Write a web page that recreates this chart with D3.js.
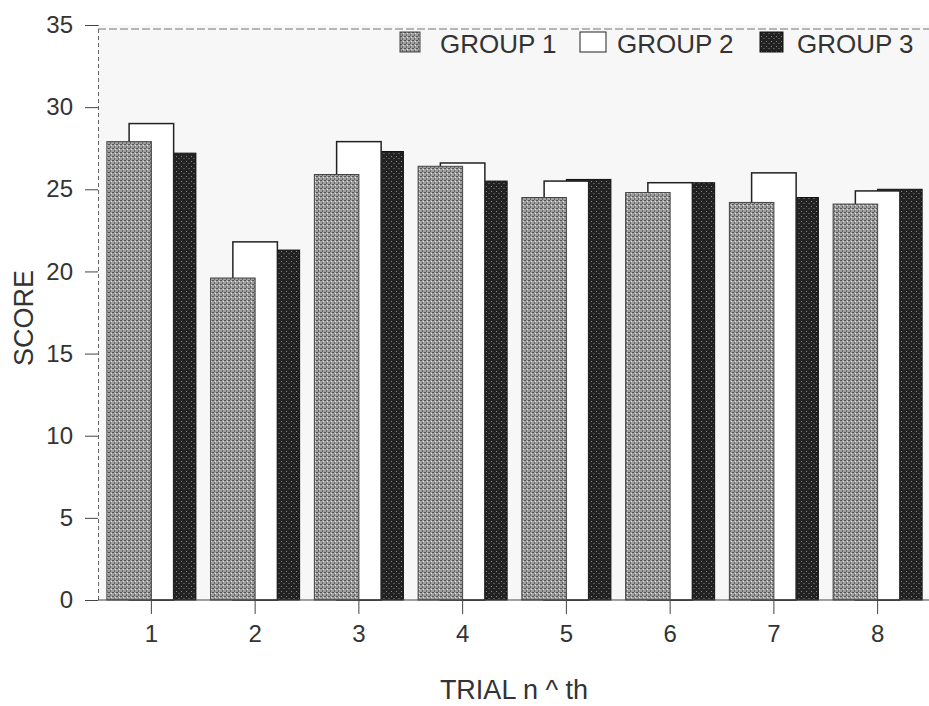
<!DOCTYPE html>
<html>
<head>
<meta charset="utf-8">
<script src="https://cdn.jsdelivr.net/npm/d3@7"></script>
<style>
  html, body { margin: 0; padding: 0; background: #fff; }
  svg { display: block; }
</style>
</head>
<body>
<svg id="chart" width="929" height="706"></svg>
<script>
// ---- data ----
const trials = ["1", "2", "3", "4", "5", "6", "7", "8"];
const groups = ["GROUP 1", "GROUP 2", "GROUP 3"];
const group1 = [27.9, 19.6, 25.9, 26.4, 24.5, 24.8, 24.2, 24.1];
const group2 = [29.0, 21.8, 27.9, 26.6, 25.5, 25.4, 26.0, 24.9];
const group3 = [27.2, 21.3, 27.3, 25.5, 25.6, 25.4, 24.5, 25.0];
const yTicks = [0, 5, 10, 15, 20, 25, 30, 35];
const seriesValues = [group1, group2, group3];

const svg = d3.select("#chart");
const font = "'Liberation Sans', Arial, Helvetica, sans-serif";

// ---- patterns (textures) ----
const defs = svg.append("defs");
const p1 = defs.append("pattern").attr("id", "pat1").attr("patternUnits", "userSpaceOnUse")
  .attr("width", 4).attr("height", 4);
p1.append("rect").attr("width", 4).attr("height", 4).attr("fill", "#a0a0a0");
p1.append("rect").attr("x", 0).attr("y", 0).attr("width", 2).attr("height", 1).attr("fill", "#555");
p1.append("rect").attr("x", 2).attr("y", 2).attr("width", 1).attr("height", 2).attr("fill", "#666");
p1.append("rect").attr("x", 3).attr("y", 1).attr("width", 1).attr("height", 1).attr("fill", "#e4e4e4");

const p3 = defs.append("pattern").attr("id", "pat3").attr("patternUnits", "userSpaceOnUse")
  .attr("width", 5).attr("height", 5);
p3.append("rect").attr("width", 5).attr("height", 5).attr("fill", "#222");
p3.append("rect").attr("x", 1).attr("y", 1).attr("width", 1).attr("height", 1).attr("fill", "#8a8a8a");
p3.append("rect").attr("x", 3).attr("y", 3).attr("width", 2).attr("height", 1).attr("fill", "#555");

const fills = ["url(#pat1)", "#ffffff", "url(#pat3)"];
const strokes = ["#444", "#222", "#111"];

// ---- scales ----
const x = d3.scaleBand().domain(trials).range([99.5, 929.5])
  .paddingInner(0.142).paddingOuter(0.071);
const y = d3.scaleLinear().domain([0, 35]).range([600, 25]);
const xLeft = 98, xRight = 929;

// plot background
svg.append("rect").attr("x", xLeft).attr("y", y(35)).attr("width", xRight - xLeft)
  .attr("height", y(0) - y(35)).attr("fill", "#f7f7f7");

// top frame line
svg.append("line").attr("x1", xLeft).attr("x2", xRight).attr("y1", y(35) + 4).attr("y2", y(35) + 4)
  .attr("stroke", "#777").attr("stroke-width", 1.2).attr("stroke-dasharray", "8,3");

// ---- bars (overlapping: group 3 at back, group 1 in front) ----
const bw = x.bandwidth();
const barW = bw / 2;
const off = bw / 4;
const order = [2, 1, 0];
order.forEach(gi => {
  svg.append("g").selectAll("rect")
    .data(trials.map((t, i) => ({ t, v: seriesValues[gi][i] })))
    .join("rect")
    .attr("x", d => x(d.t) + gi * off)
    .attr("y", d => y(d.v))
    .attr("width", barW)
    .attr("height", d => y(0) - y(d.v))
    .attr("fill", fills[gi])
    .attr("stroke", strokes[gi])
    .attr("stroke-width", gi === 1 ? 1.5 : 1);
});

// ---- y axis ----
const yAxis = svg.append("g").attr("transform", `translate(${xLeft},0)`)
  .call(d3.axisLeft(y).tickValues(yTicks).tickSize(13).tickPadding(12));
yAxis.select(".domain").attr("stroke", "#666").attr("stroke-dasharray", "4,3");
yAxis.selectAll(".tick line").attr("stroke", "#444");
yAxis.selectAll(".tick text").attr("font-family", font).attr("font-size", 24).attr("fill", "#333");

// ---- x axis ----
const xAxis = svg.append("g").attr("transform", `translate(0,${y(0)})`)
  .call(d3.axisBottom(x).tickSize(14).tickPadding(11));
xAxis.select(".domain").attr("d", `M${xLeft},0H${xRight}`).attr("stroke", "#444");
xAxis.selectAll(".tick line").attr("stroke", "#444");
xAxis.selectAll(".tick text").attr("font-family", font).attr("font-size", 24).attr("fill", "#333");

// ---- axis titles ----
svg.append("text").attr("transform", "translate(33,318) rotate(-90)")
  .attr("text-anchor", "middle").attr("font-family", font).attr("font-size", 27)
  .attr("fill", "#333").text("SCORE");
svg.append("text").attr("x", 514).attr("y", 699)
  .attr("text-anchor", "middle").attr("font-family", font).attr("font-size", 27)
  .attr("fill", "#333").text("TRIAL n ^ th");

// ---- legend ----
const legendItems = [
  { sx: 400, sw: 20, tx: 440 },
  { sx: 580, sw: 26, tx: 617 },
  { sx: 760, sw: 23, tx: 797 }
];
const lg = svg.append("g");
groups.forEach((g, i) => {
  const it = legendItems[i];
  lg.append("rect").attr("x", it.sx).attr("y", 32).attr("width", it.sw).attr("height", 20)
    .attr("fill", fills[i]).attr("stroke", strokes[i]).attr("stroke-width", 1);
  lg.append("text").attr("x", it.tx).attr("y", 53).attr("font-family", font)
    .attr("font-size", 26).attr("fill", "#333").text(g);
});
</script>
</body>
</html>
